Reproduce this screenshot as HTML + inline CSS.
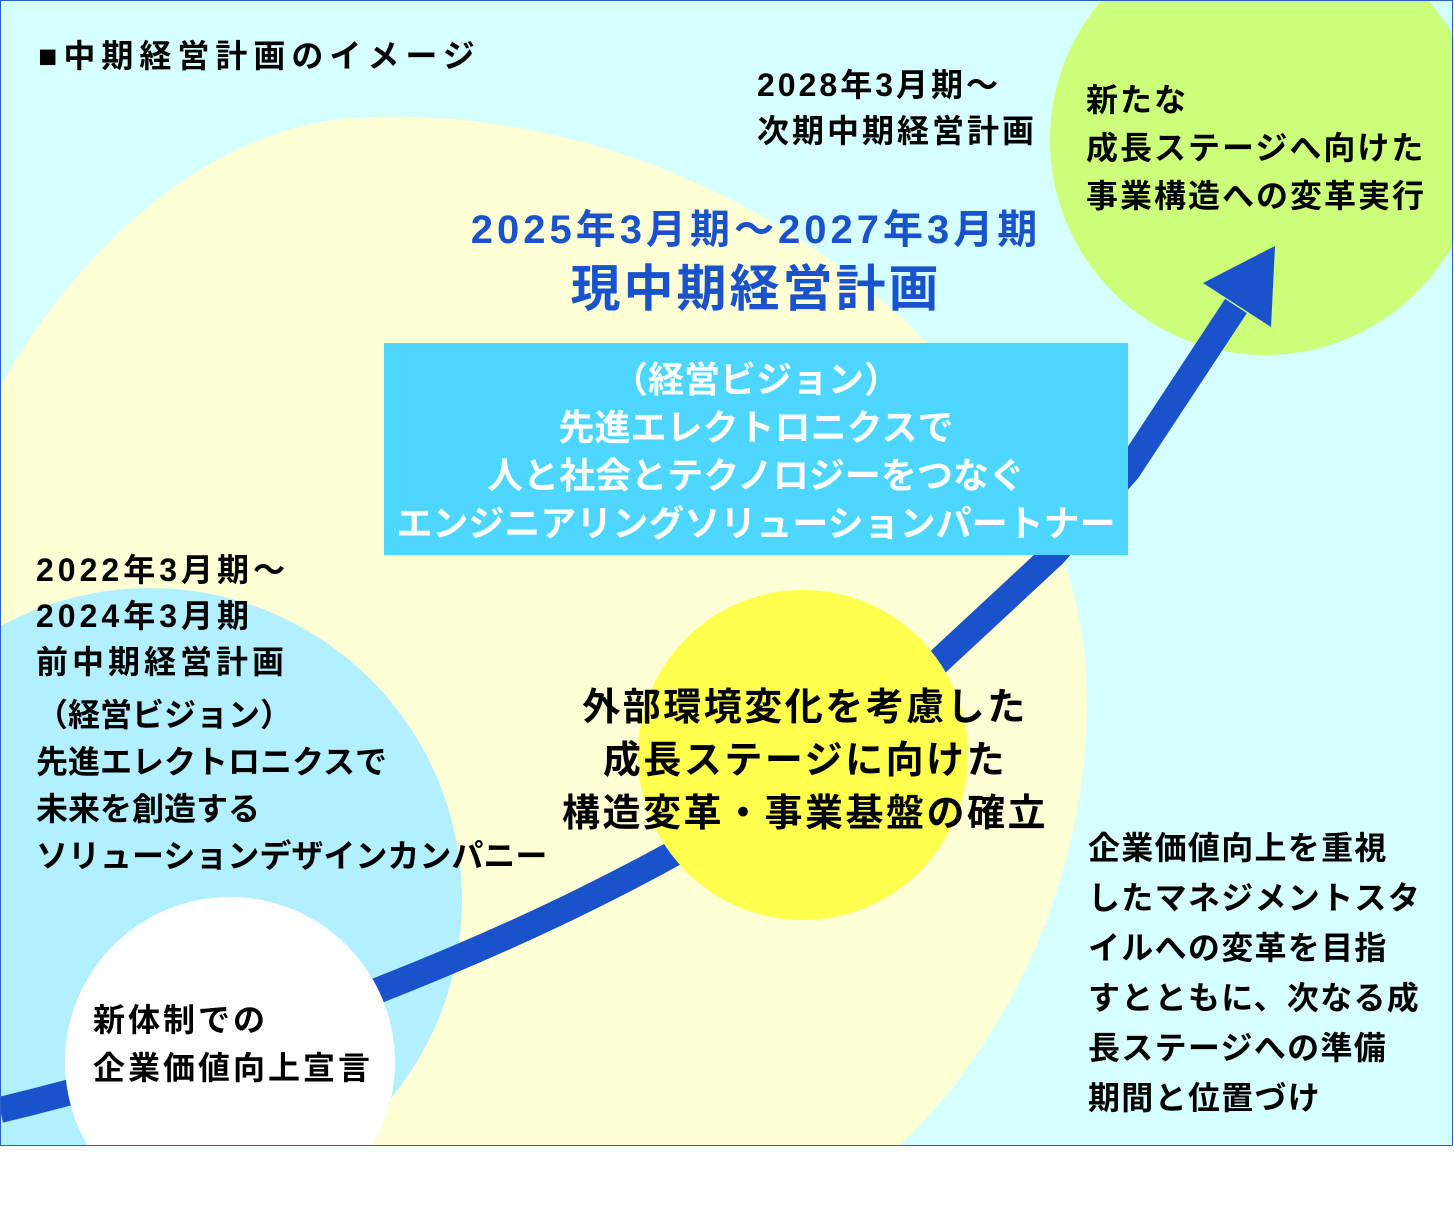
<!DOCTYPE html>
<html><head><meta charset="utf-8"><style>
body{margin:0;width:1454px;height:1229px;background:#fff;overflow:hidden;font-family:"Liberation Sans","Noto Sans CJK JP",sans-serif;font-weight:bold}
.t{position:absolute;white-space:nowrap;color:#000;line-height:1}
</style></head><body>
<svg width="1454" height="1229" style="position:absolute;left:0;top:0">
<rect x="0.5" y="0.5" width="1452" height="1145" fill="#d6ffff" stroke="#2a5fd0" stroke-width="1"/>
<path d="M1,385 C90,230 220,128 353,118 C720,95 1087,380 1087,700 C1087,900 990,1060 900,1145 L1,1145 Z" fill="#ffffd6"/>
<circle cx="150" cy="900" r="312" fill="#b3f0ff"/>
<circle cx="1265" cy="140" r="215" fill="#ccff7a"/>
<path d="M0,1110 C250,1050 500,950 680,850 C800,780 880,720 940,660 L1053,555 L1128,470 L1236,306" fill="none" stroke="#1a52cc" stroke-width="26" stroke-linejoin="round"/>
<polygon points="1275,246 1203,283 1271,327" fill="#1a52cc"/>
<circle cx="803" cy="755" r="165" fill="#ffff4d"/>
<circle cx="230" cy="1062" r="165" fill="#fff"/>
<rect x="0" y="1146" width="1454" height="83" fill="#fff"/>
<rect x="384" y="343" width="744" height="212" fill="#4dd6ff"/>
<rect x="0.5" y="0.5" width="1452" height="1145" fill="none" stroke="#2a5fd0" stroke-width="1"/>
</svg>
<div class="t" style="left:38px;top:40px;font-size:32px;letter-spacing:6px">■中期経営計画のイメージ</div>
<div class="t" style="left:757px;top:62px;font-size:32px;line-height:46px;letter-spacing:3px">2028年3月期～<br>次期中期経営計画</div>
<div class="t" style="left:1086px;top:76px;font-size:32px;line-height:48px;letter-spacing:2px">新たな<br>成長ステージへ向けた<br>事業構造への変革実行</div>
<div class="t" style="left:384px;width:744px;top:210px;font-size:40px;color:#1a52cc;text-align:center;letter-spacing:4px">2025年3月期～2027年3月期</div>
<div class="t" style="left:384px;width:744px;top:264px;font-size:50px;color:#1a52cc;text-align:center;letter-spacing:3px">現中期経営計画</div>
<div class="t" style="left:384px;width:744px;top:356px;font-size:36px;line-height:48px;color:#fff;text-align:center">（経営ビジョン）<br>先進エレクトロニクスで<br>人と社会とテクノロジーをつなぐ<br>エンジニアリングソリューションパートナー</div>
<div class="t" style="left:36px;top:547px;font-size:32px;line-height:46px;letter-spacing:4px">2022年3月期～<br>2024年3月期<br>前中期経営計画</div>
<div class="t" style="left:36px;top:692px;font-size:32px;line-height:47px">（経営ビジョン）<br>先進エレクトロニクスで<br>未来を創造する<br>ソリューションデザインカンパニー</div>
<div class="t" style="left:550px;width:510px;top:682px;font-size:38px;line-height:53px;text-align:center;letter-spacing:2.5px">外部環境変化を考慮した<br>成長ステージに向けた<br>構造変革・事業基盤の確立</div>
<div class="t" style="left:1088px;top:823px;font-size:32px;line-height:50px;letter-spacing:1.3px">企業価値向上を重視<br>したマネジメントスタ<br>イルへの変革を目指<br>すとともに、次なる成<br>長ステージへの準備<br>期間と位置づけ</div>
<div class="t" style="left:93px;top:996px;font-size:32px;line-height:48px;letter-spacing:3px">新体制での<br>企業価値向上宣言</div>
</body></html>
